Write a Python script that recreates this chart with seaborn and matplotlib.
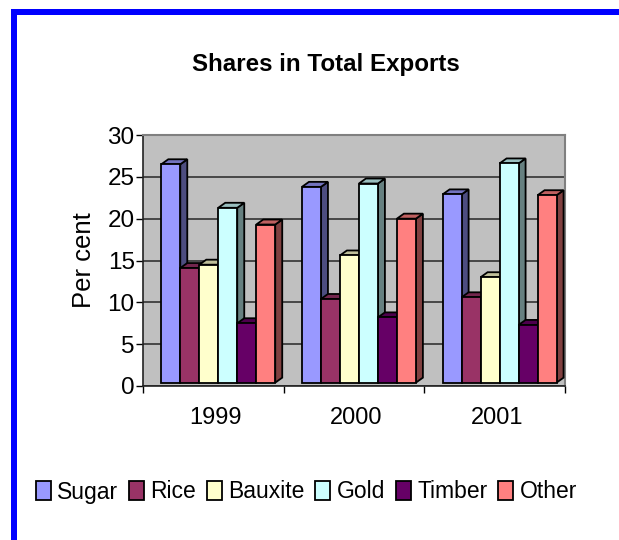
import matplotlib
matplotlib.use("Agg")
import matplotlib.pyplot as plt
import matplotlib.colors as mcolors
from matplotlib.patches import Patch, Polygon, Rectangle
import pandas as pd
import seaborn as sns

YEARS = ["1999", "2000", "2001"]
PRODUCTS = ["Sugar", "Rice", "Bauxite", "Gold", "Timber", "Other"]
SUGAR = [26.1, 23.4, 22.5]
RICE = [13.7, 10.0, 10.2]
BAUXITE = [14.1, 15.2, 12.6]
GOLD = [20.9, 23.8, 26.2]
TIMBER = [7.1, 7.8, 6.9]
OTHER = [18.9, 19.6, 22.4]
COLORS = ["#9999FF", "#993366", "#FFFFCC", "#CCFFFF", "#660066", "#FF8080"]

W, H = 619, 540
DEPTH_X, DEPTH_Y = 7, 5  # 3d extrusion in pixels
EDGE = 1.3


def shade(color, k):
    r, g, b = mcolors.to_rgb(color)
    return (r * k, g * k, b * k)


series = [SUGAR, RICE, BAUXITE, GOLD, TIMBER, OTHER]
df = pd.DataFrame(
    [
        {"year": y, "product": p, "share": vals[i]}
        for p, vals in zip(PRODUCTS, series)
        for i, y in enumerate(YEARS)
    ]
)

sns.set_theme(style="white")
plt.rcParams["font.family"] = ["Liberation Sans", "DejaVu Sans"]

fig = plt.figure(figsize=(W / 100, H / 100), dpi=100)
ax = fig.add_axes([143 / W, 1 - 386 / H, (565 - 143) / W, (386 - 135) / H])
ax.set_facecolor("#C0C0C0")

sns.barplot(
    data=df, x="year", y="share", hue="product", order=YEARS, hue_order=PRODUCTS,
    palette=COLORS, saturation=1, width=0.81, gap=0, legend=False, ax=ax,
    edgecolor="black", linewidth=EDGE, bottom=0.4,
)
ax.set_xlim(-0.535, 2.465)
ax.set_ylim(0, 30)

# extrude every bar, painting left to right so neighbours overlap correctly
px_x = 3.0 / (565 - 143)
px_y = 30.0 / (386 - 135)
dx, dy = DEPTH_X * px_x, DEPTH_Y * px_y
bars = sorted(ax.patches, key=lambda b: b.get_x())
for n, bar in enumerate(bars):
    x0, x1 = bar.get_x(), bar.get_x() + bar.get_width()
    y0, y1 = bar.get_y(), bar.get_y() + bar.get_height()
    base = mcolors.to_hex(bar.get_facecolor())
    z = 3 + n * 0.1
    bar.set_zorder(z + 0.02)
    ax.add_patch(Polygon([(x1, y0), (x1 + dx, y0 + dy), (x1 + dx, y1 + dy), (x1, y1)],
                         facecolor=shade(base, 0.5), edgecolor="black", linewidth=EDGE, zorder=z))
    ax.add_patch(Polygon([(x0, y1), (x0 + dx, y1 + dy), (x1 + dx, y1 + dy), (x1, y1)],
                         facecolor=shade(base, 0.75), edgecolor="black", linewidth=EDGE, zorder=z + 0.01))

ax.set_axisbelow(True)
ax.set_yticks(range(0, 31, 5))
ax.yaxis.grid(True, color="#333333", linewidth=1.2)
ax.xaxis.grid(False)
ax.set_xticks([-0.535, 0.465, 1.465, 2.465])
ax.set_xticklabels([])
ax.tick_params(axis="x", length=5, width=1, color="black", bottom=True)
ax.tick_params(axis="y", length=5, width=1, color="black", left=True, labelsize=17.5, pad=1, labelcolor="black")
for x, label in zip(range(3), YEARS):
    ax.annotate(label, (x - 0.02, 0), xytext=(0, -32), textcoords="offset pixels",
                ha="center", va="center", fontsize=17, color="black", annotation_clip=False)

for side in ["top", "right"]:
    ax.spines[side].set_color("#808080")
    ax.spines[side].set_linewidth(1.5)
for side in ["left", "bottom"]:
    ax.spines[side].set_color("#222222")
    ax.spines[side].set_linewidth(1.2)

ax.set_xlabel("")
ax.set_ylabel("")
fig.text(84 / W, 1 - 260 / H, "Per cent", rotation=90, ha="center", va="center", fontsize=18.5, color="black")
fig.text(326 / W, 1 - 65 / H, "Shares in Total Exports", ha="center", va="center",
         fontsize=17.4, fontweight="bold", color="black")

handles = [Patch(facecolor=c, edgecolor="black", linewidth=EDGE, label=p) for c, p in zip(COLORS, PRODUCTS)]
fig.legend(handles=handles, loc="center left", bbox_to_anchor=(36 / W, 1 - 492 / H), ncol=6, frameon=False,
           fontsize=16.5, handlelength=0.65, handleheight=0.85, handletextpad=0.28, columnspacing=0.47,
           borderpad=0, borderaxespad=0, labelcolor="black")

# blue frame around the slide
fig.add_artist(Rectangle((11 / W, 1 - 15 / H), (W - 11) / W, 6 / H, transform=fig.transFigure, facecolor="#0000FF", edgecolor="none"))
fig.add_artist(Rectangle((11 / W, 0), 6 / W, 1 - 9 / H, transform=fig.transFigure, facecolor="#0000FF", edgecolor="none"))

fig.savefig("out.png", dpi=100, facecolor="white")
plt.close(fig)
